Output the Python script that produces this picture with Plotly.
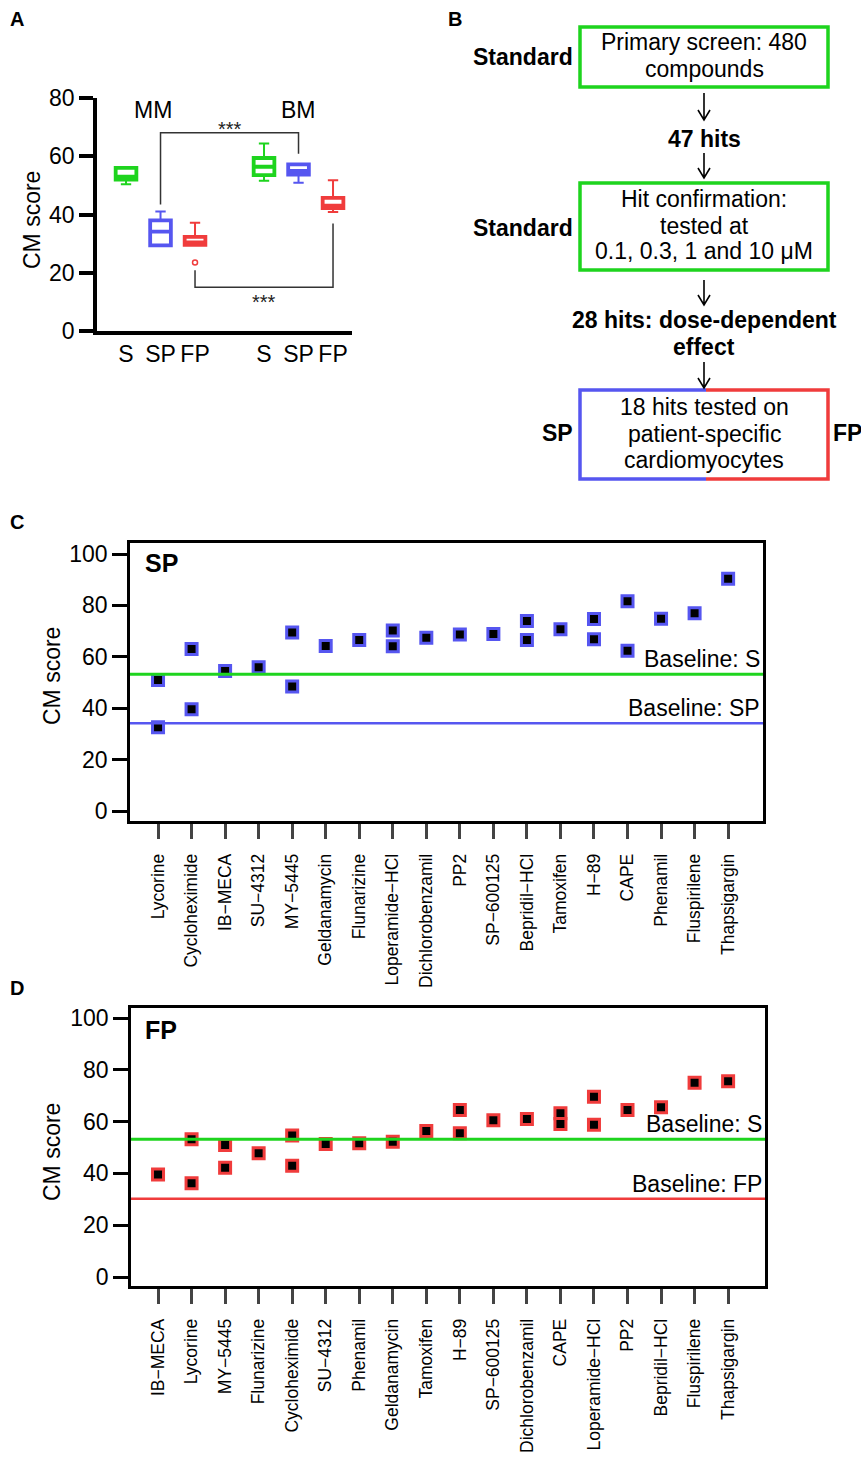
import plotly.graph_objects as go

W, H = 861, 1459
FONT = "Liberation Sans, Arial, Helvetica, sans-serif"

GREEN = "#1ed41e"
BLUE = "#5656f0"
RED = "#f03c3c"
COLORS = {"S": GREEN, "SP": BLUE, "FP": RED}

# ---------------- Panel A data ----------------
a_groups = ["MM", "MM", "MM", "BM", "BM", "BM"]
a_conditions = ["S", "SP", "FP", "S", "SP", "FP"]
a_positions = [1, 2, 3, 5, 6, 7]
a_q1 = [52.0, 29.4, 29.6, 53.5, 53.7, 42.2]
a_median = [53.0, 34.1, 30.4, 56.4, 55.0, 43.0]
a_q3 = [56.0, 38.0, 32.3, 59.4, 57.2, 45.7]
a_lower = [50.4, 29.4, 29.6, 51.6, 50.9, 40.9]
a_upper = [56.0, 41.0, 37.2, 64.4, 57.2, 51.8]
a_outlier_pos = [3]
a_outlier_val = [23.5]
a_yticks = [0, 20, 40, 60, 80]

# ---------------- Panel C data (SP) ----------------
sp_order = ["Lycorine", "Cycloheximide", "IB\u2212MECA", "SU\u22124312", "MY\u22125445",
            "Geldanamycin", "Flunarizine", "Loperamide\u2212HCl", "Dichlorobenzamil", "PP2",
            "SP\u2212600125", "Bepridil\u2212HCl", "Tamoxifen", "H\u221289", "CAPE",
            "Phenamil", "Fluspirilene", "Thapsigargin"]
sp_point_compound = ["Lycorine", "Lycorine", "Cycloheximide", "Cycloheximide", "IB\u2212MECA",
                     "SU\u22124312", "MY\u22125445", "MY\u22125445", "Geldanamycin", "Flunarizine",
                     "Loperamide\u2212HCl", "Loperamide\u2212HCl", "Dichlorobenzamil", "PP2",
                     "SP\u2212600125", "Bepridil\u2212HCl", "Bepridil\u2212HCl", "Tamoxifen",
                     "H\u221289", "H\u221289", "CAPE", "CAPE", "Phenamil", "Fluspirilene",
                     "Thapsigargin"]
sp_point_score = [51.0, 32.6, 63.0, 39.6, 54.5,
                  55.9, 69.5, 48.4, 64.2, 66.5,
                  70.2, 64.1, 67.4, 68.7,
                  68.9, 73.9, 66.5, 70.7,
                  74.7, 66.8, 81.6, 62.4, 74.8, 76.9,
                  90.4]
sp_baseline_S = 53.2
sp_baseline_SP = 34.1

# ---------------- Panel D data (FP) ----------------
fp_order = ["IB\u2212MECA", "Lycorine", "MY\u22125445", "Flunarizine", "Cycloheximide",
            "SU\u22124312", "Phenamil", "Geldanamycin", "Tamoxifen", "H\u221289",
            "SP\u2212600125", "Dichlorobenzamil", "CAPE", "Loperamide\u2212HCl", "PP2",
            "Bepridil\u2212HCl", "Fluspirilene", "Thapsigargin"]
fp_point_compound = ["IB\u2212MECA", "Lycorine", "Lycorine", "MY\u22125445", "MY\u22125445",
                     "Flunarizine", "Cycloheximide", "Cycloheximide", "SU\u22124312", "Phenamil",
                     "Geldanamycin", "Tamoxifen", "H\u221289", "H\u221289", "SP\u2212600125",
                     "Dichlorobenzamil", "CAPE", "CAPE", "Loperamide\u2212HCl", "Loperamide\u2212HCl",
                     "PP2", "Bepridil\u2212HCl", "Fluspirilene", "Thapsigargin"]
fp_point_score = [39.6, 53.2, 36.2, 51.0, 42.2,
                  47.8, 54.6, 43.0, 51.4, 51.6,
                  52.2, 56.4, 64.5, 55.5, 60.5,
                  61.0, 63.2, 59.1, 69.6, 58.8,
                  64.5, 65.5, 75.0, 75.6]
fp_baseline_S = 53.2
fp_baseline_FP = 30.2

score_ticks = [0, 20, 40, 60, 80, 100]


def px(x):
    return x / W


def py(y):
    return 1 - y / H


fig = go.Figure()

# ---------------- Panel A traces ----------------
for i in range(len(a_positions)):
    col = COLORS[a_conditions[i]]
    fig.add_trace(go.Box(
        x=[a_positions[i]], q1=[a_q1[i]], median=[a_median[i]], q3=[a_q3[i]],
        lowerfence=[a_lower[i]], upperfence=[a_upper[i]],
        width=0.6, whiskerwidth=0.5, boxpoints=False,
        line=dict(color=col, width=2), fillcolor="white",
        xaxis="x", yaxis="y", showlegend=False, hoverinfo="skip"))
    fig.add_trace(go.Box(
        x=[a_positions[i]], q1=[a_q1[i]], median=[a_median[i]], q3=[a_q3[i]],
        lowerfence=[a_q1[i]], upperfence=[a_q3[i]],
        width=0.6, whiskerwidth=0, boxpoints=False,
        line=dict(color=col, width=3.8), fillcolor="white",
        xaxis="x", yaxis="y", showlegend=False, hoverinfo="skip"))

fig.add_trace(go.Scatter(
    x=a_outlier_pos, y=a_outlier_val, mode="markers",
    marker=dict(symbol="circle-open", size=5, color=RED, line=dict(width=1.5)),
    xaxis="x", yaxis="y", showlegend=False))

# ---------------- Panel C traces ----------------
fig.add_trace(go.Scatter(
    x=sp_point_compound, y=sp_point_score, mode="markers",
    marker=dict(symbol="square", size=11, color="black", line=dict(color=BLUE, width=3)),
    xaxis="x2", yaxis="y2", showlegend=False))

# ---------------- Panel D traces ----------------
fig.add_trace(go.Scatter(
    x=fp_point_compound, y=fp_point_score, mode="markers",
    marker=dict(symbol="square", size=11, color="black", line=dict(color=RED, width=3)),
    xaxis="x3", yaxis="y3", showlegend=False))

shapes = []
annotations = []

# Panel A brackets
shapes.append(dict(type="path", xref="x", yref="y",
                   path="M 2,43.4 L 2,68.1 L 6,68.1 L 6,60.9",
                   line=dict(color="#333333", width=1.5)))
shapes.append(dict(type="path", xref="x", yref="y",
                   path="M 3,20.9 L 3,15.0 L 7,15.0 L 7,36.9",
                   line=dict(color="#333333", width=1.5)))


def ann(**kw):
    kw.setdefault("showarrow", False)
    kw.setdefault("xanchor", "center")
    kw.setdefault("yanchor", "middle")
    annotations.append(kw)


ann(x=4, y=69.4, xref="x", yref="y", text="***", font=dict(size=20, color="#222222"))
ann(x=5, y=10.0, xref="x", yref="y", text="***", font=dict(size=20, color="#222222"))
ann(x=1.78, y=75.9, xref="x", yref="y", text="MM", font=dict(size=23, color="black"))
ann(x=6.0, y=75.9, xref="x", yref="y", text="BM", font=dict(size=23, color="black"))
ann(x=px(32), y=py(220), xref="paper", yref="paper", text="CM score",
    textangle=-90, font=dict(size=23, color="black"))

# Panel labels
for lab, x, y in [("A", 17, 19), ("B", 455, 19), ("C", 17, 522), ("D", 17, 988)]:
    ann(x=px(x), y=py(y), xref="paper", yref="paper", text="<b>%s</b>" % lab,
        font=dict(size=20, color="black"))


# ---------------- Panel B flowchart ----------------
def rect(x0, y0, x1, y1, color):
    shapes.append(dict(type="rect", xref="paper", yref="paper",
                       x0=px(x0), x1=px(x1), y0=py(y1), y1=py(y0),
                       line=dict(color=color, width=3.5)))


def arrow(x, y0, y1):
    p = "M %f,%f L %f,%f M %f,%f L %f,%f L %f,%f" % (
        px(x), py(y0), px(x), py(y1),
        px(x - 6), py(y1 - 10), px(x), py(y1), px(x + 6), py(y1 - 10))
    shapes.append(dict(type="path", xref="paper", yref="paper", path=p,
                       line=dict(color="black", width=1.6)))


def text(x, y, s, bold=False, xanchor="center", size=23):
    if bold:
        s = "<b>%s</b>" % s
    ann(x=px(x), y=py(y), xref="paper", yref="paper", text=s, xanchor=xanchor,
        font=dict(size=size, color="black"))


rect(580, 27, 828, 87, GREEN)
rect(580, 183, 828, 270, GREEN)
shapes.append(dict(type="path", xref="paper", yref="paper",
                   path="M %f,%f L %f,%f L %f,%f L %f,%f" % (px(706), py(390), px(580), py(390),
                                                             px(580), py(479), px(706), py(479)),
                   line=dict(color=BLUE, width=3.5)))
shapes.append(dict(type="path", xref="paper", yref="paper",
                   path="M %f,%f L %f,%f L %f,%f L %f,%f" % (px(706), py(390), px(828), py(390),
                                                             px(828), py(479), px(706), py(479)),
                   line=dict(color=RED, width=3.5)))

arrow(704, 93, 120)
arrow(704, 153, 178)
arrow(704, 280, 305)
arrow(704, 362, 388)

text(523, 57, "Standard", bold=True)
text(523, 228, "Standard", bold=True)
text(704, 42, "Primary screen: 480")
text(704, 69, "compounds")
text(704, 139, "47 hits", bold=True)
text(704, 199, "Hit confirmation:")
text(704, 226, "tested at")
text(704, 251, "0.1, 0.3, 1 and 10 \u03bcM")
text(704, 320, "28 hits: dose-dependent", bold=True)
text(704, 347, "effect", bold=True)
text(704, 407, "18 hits tested on")
text(704, 434, "patient-specific")
text(704, 460, "cardiomyocytes")
text(557, 433, "SP", bold=True)
text(831, 433, "FP", bold=True, xanchor="left")


# ---------------- Panel C / D baselines & labels ----------------
def baseline(axis, value, color, width, label):
    shapes.append(dict(type="line", xref="%s domain" % axis[0], yref=axis[1],
                       x0=0, x1=1, y0=value, y1=value,
                       line=dict(color=color, width=width)))
    ann(xref="%s domain" % axis[0], yref=axis[1], x=1, y=value,
        xanchor="right", yanchor="bottom", xshift=-1, text=label,
        font=dict(size=23, color="black"))


baseline(("x2", "y2"), sp_baseline_S, GREEN, 3, "Baseline: S")
baseline(("x2", "y2"), sp_baseline_SP, BLUE, 2.5, "Baseline: SP")
baseline(("x3", "y3"), fp_baseline_S, GREEN, 3, "Baseline: S")
baseline(("x3", "y3"), fp_baseline_FP, RED, 2.5, "Baseline: FP")

ann(xref="x2 domain", yref="y2 domain", x=0.02, y=0.928, xanchor="left",
    text="<b>SP</b>", font=dict(size=25, color="black"))
ann(xref="x3 domain", yref="y3 domain", x=0.019, y=0.921, xanchor="left",
    text="<b>FP</b>", font=dict(size=25, color="black"))
ann(x=px(52), y=py(676), xref="paper", yref="paper", text="CM score",
    textangle=-90, font=dict(size=23, color="black"))
ann(x=px(52), y=py(1152), xref="paper", yref="paper", text="CM score",
    textangle=-90, font=dict(size=23, color="black"))

axis_common = dict(showgrid=False, zeroline=False, color="black", automargin=False,
                   tickfont=dict(size=23, color="black"))
xcat_common = dict(type="category", categoryorder="array", tickangle=-90,
                   ticks="outside", ticklen=15, tickwidth=3,
                   showline=True, mirror=True, linewidth=2.5, linecolor="black",
                   showgrid=False, zeroline=False, automargin=False,
                   tickfont=dict(size=17.5, color="black"), ticklabelstandoff=8)

fig.update_layout(
    width=W, height=H,
    margin=dict(l=0, r=0, t=0, b=0, pad=0),
    paper_bgcolor="white", plot_bgcolor="white",
    font=dict(family=FONT, color="black"),
    showlegend=False,
    shapes=shapes,
    annotations=annotations,
    # Panel A
    xaxis=dict(domain=[px(97), px(352)], range=[0.159, 7.55], anchor="y",
               tickvals=a_positions, ticktext=a_conditions, ticks="",
               showline=True, linewidth=3.5, linecolor="black", **axis_common),
    yaxis=dict(domain=[py(331), py(98)], range=[0, 80], anchor="x",
               tickvals=a_yticks, ticks="outside", ticklen=14, tickwidth=3.5,
               showline=True, linewidth=3.5, linecolor="black", **axis_common),
    # Panel C
    xaxis2=dict(domain=[px(130), px(763)], range=[-0.836, 18.04], anchor="y2",
                categoryarray=sp_order, **xcat_common),
    yaxis2=dict(domain=[py(821), py(543)], range=[-3.89, 104.28], anchor="x2",
                tickvals=score_ticks, ticks="outside", ticklen=15, tickwidth=3,
                showline=True, mirror=True, linewidth=2.5, linecolor="black", **axis_common),
    # Panel D
    xaxis3=dict(domain=[px(131), px(765)], range=[-0.806, 18.10], anchor="y3",
                categoryarray=fp_order, **xcat_common),
    yaxis3=dict(domain=[py(1286), py(1008)], range=[-3.47, 103.86], anchor="x3",
                tickvals=score_ticks, ticks="outside", ticklen=15, tickwidth=3,
                showline=True, mirror=True, linewidth=2.5, linecolor="black", **axis_common),
)

# remove the default 8px page margin so the 861x1459 figure fills the window exactly
fig.write_html("out.html",
               config={"displayModeBar": False},
               post_script="document.body.style.margin='0';document.body.style.overflow='hidden';")
